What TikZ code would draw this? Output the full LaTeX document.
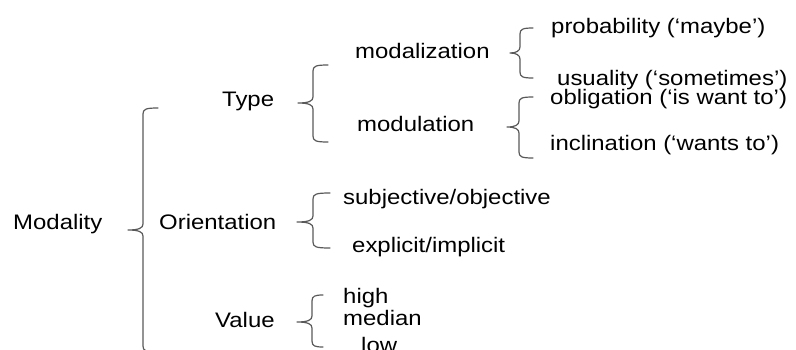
\documentclass[tikz,border=0pt]{standalone}
\usepackage{fontspec}
\setmainfont[FakeStretch=1.14]{Liberation Sans}
\newcommand{\mybrace}[6]{% xv, top, tip, bottom, hookx, tipx
  \draw[bracestyle] (#5,#2) .. controls (#1+3,#2) and (#1,#2+1) .. (#1,#2+6)
    -- (#1,#3-6) .. controls (#1,#3-2) and (#1-4,#3) .. (#6,#3)
    .. controls (#1-4,#3) and (#1,#3+2) .. (#1,#3+6)
    -- (#1,#4-6) .. controls (#1,#4-1) and (#1+3,#4) .. (#5,#4);}
\begin{document}
\begin{tikzpicture}[x=1pt,y=-1pt,
  lbl/.style={anchor=base west,inner sep=0pt,text=black,font=\fontsize{21}{25}\selectfont},
  bracestyle/.style={draw=black!65,line width=1.2pt,line cap=round,line join=round}]
\useasboundingbox (0,0) rectangle (796,349);
\clip (0,0) rectangle (796,349);
\node[lbl] (modality) at (13,229.5) {Modality};
\node[lbl] (type) at (222,106.5) {Type};
\node[lbl] (orient) at (159,229.5) {Orientation};
\node[lbl] (value) at (215,327) {Value};
\node[lbl] (modaliz) at (355,58) {modalization};
\node[lbl] (modul) at (357,131) {modulation};
\node[lbl] (prob) at (551,33) {probability (‘maybe’)};
\node[lbl] (usual) at (557,85) {usuality (‘sometimes’)};
\node[lbl] (oblig) at (550,104.5) {obligation (‘is want to’)};
\node[lbl] (incl) at (550,150) {inclination (‘wants to’)};
\node[lbl] (subj) at (343,204) {subjective/objective};
\node[lbl] (expl) at (352,252) {explicit/implicit};
\node[lbl] (high) at (343,303) {high};
\node[lbl] (median) at (343,325) {median};
\node[lbl] (low) at (361,352) {low};
\mybrace{143}{108}{230}{352}{158}{128}
\mybrace{313}{65}{103}{142}{328}{298}
\mybrace{520}{28}{53}{78}{533}{510}
\mybrace{519}{97}{127}{158}{533}{507}
\mybrace{313}{193}{222}{248}{330}{297}
\mybrace{312}{295}{322}{347}{323}{297}
\end{tikzpicture}
\end{document}
